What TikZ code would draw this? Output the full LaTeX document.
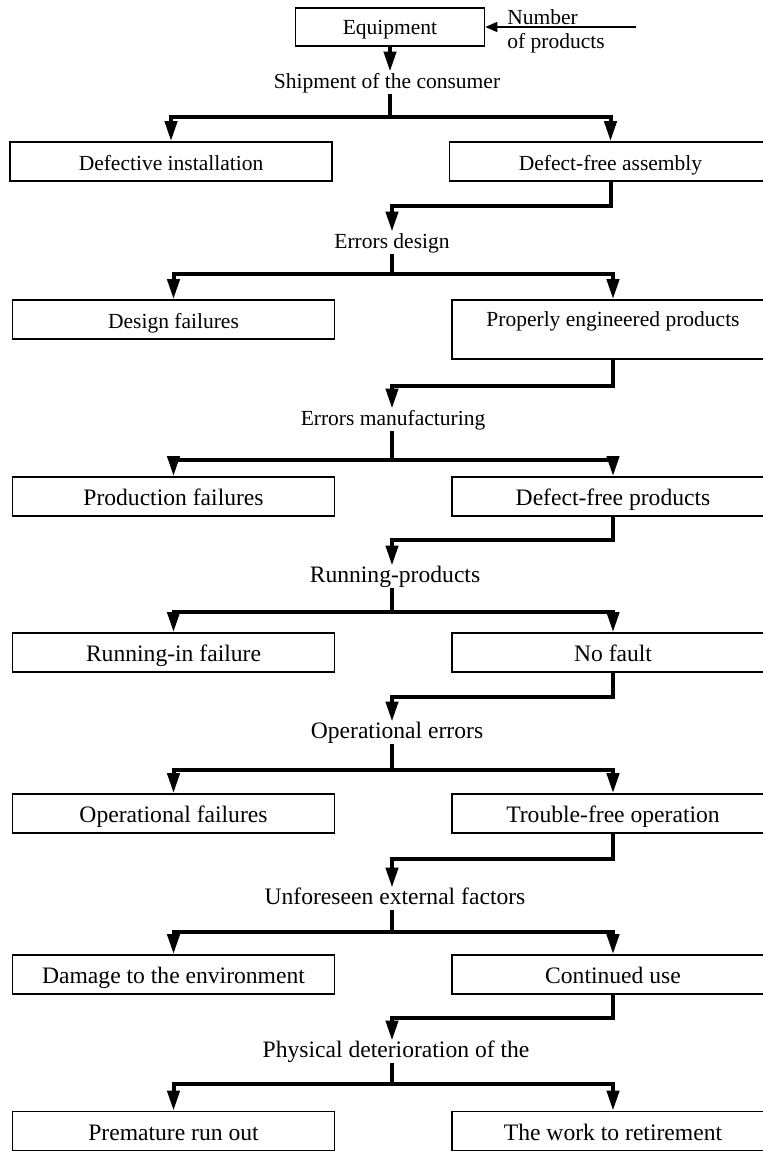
\documentclass[tikz,border=0pt]{standalone}
\usepackage{fontspec}
\setmainfont{Liberation Serif}
\usetikzlibrary{arrows.meta}

\tikzset{
  box/.style={draw,line width=0.8pt,minimum width=161pt,minimum height=19.5pt,
    inner sep=0pt,text height=11.5pt,text depth=2.5pt},
  stage/.style={inner sep=0.5pt,text height=7.5pt,text depth=2.5pt},
  large/.style={font=\fontsize{11.8}{14}\selectfont},
  flow/.style={line width=2pt},
  flowto/.style={flow,-{Triangle[length=10pt,width=6pt]}},
  feed/.style={line width=0.75pt,-{Triangle[length=6pt,width=5pt]}}
}

\begin{document}
\begin{tikzpicture}[x=0.5pt,y=-0.5pt,font=\fontsize{10.75}{13}\selectfont]
\useasboundingbox (0,0) rectangle (763,1151);
% Input
\node [box,minimum width=94.5pt,minimum height=19pt,text height=10pt] (equip) at (390,27) {Equipment};
\node [anchor=base west,inner sep=0pt] (number) at (507,25) {Number};
\node [anchor=base west,inner sep=0pt] (ofprod) at (507,48) {of products};
\coordinate (src) at (636,27);
\draw [feed] (src) -- (equip.east);
% Shipment
\node [stage] (shipment) at (387,83) {Shipment of the consumer};
\draw [flowto] (equip.south) -- (equip.south |- shipment.north);
\coordinate (s1) at (390,117);
\node [box] (instFail) at (171,161.5) {Defective installation};
\node [box] (assembly) at (610.5,161.5) {Defect-free assembly};
\draw [flow] (shipment.south -| s1) -- (s1);
\draw [flowto] (s1) -| (instFail.north);
\draw [flowto] (s1) -| (assembly.north);
% Design
\coordinate (r1) at (392,206);
\node [stage] (design) at (392,243) {Errors design};
\draw [flowto] (assembly.south) |- (r1) -- (r1 |- design.north);
\coordinate (s2) at (392,274);
\node [box] (designFail) at (173.5,319.5) {Design failures};
\node [box,minimum height=29.5pt,text depth=14.5pt] (engineered) at (613,329.5) {Properly engineered products};
\draw [flow] (design.south -| s2) -- (s2);
\draw [flowto] (s2) -| (designFail.north);
\draw [flowto] (s2) -| (engineered.north);
% Manufacturing
\coordinate (r2) at (392,386);
\node [stage] (manuf) at (393,420) {Errors manufacturing};
\draw [flowto] (engineered.south) |- (r2) -- (r2 |- manuf.north);
\coordinate (s3) at (392,460);
\node [box,large] (prodFail) at (173.5,496.5) {Production failures};
\node [box,large] (defectFree) at (613,496.5) {Defect-free products};
\draw [flow] (manuf.south -| s3) -- (s3);
\draw [flowto] (s3) -| (prodFail.north);
\draw [flowto] (s3) -| (defectFree.north);
% Running-in
\coordinate (r3) at (392,540);
\node [stage,large] (running) at (395,577) {Running-products};
\draw [flowto] (defectFree.south) |- (r3) -- (r3 |- running.north);
\coordinate (s4) at (392,612);
\node [box,large] (runFail) at (173.5,652.5) {Running-in failure};
\node [box,large] (noFault) at (613,652.5) {No fault};
\draw [flow] (running.south -| s4) -- (s4);
\draw [flowto] (s4) -| (runFail.north);
\draw [flowto] (s4) -| (noFault.north);
% Operation
\coordinate (r4) at (392,697);
\node [stage,large] (operr) at (397,733) {Operational errors};
\draw [flowto] (noFault.south) |- (r4) -- (r4 |- operr.north);
\coordinate (s5) at (392,770);
\node [box,large] (opFail) at (173.5,813.5) {Operational failures};
\node [box,large] (troubleFree) at (613,813.5) {Trouble-free operation};
\draw [flow] (operr.south -| s5) -- (s5);
\draw [flowto] (s5) -| (opFail.north);
\draw [flowto] (s5) -| (troubleFree.north);
% External factors
\coordinate (r5) at (392,859);
\node [stage,large] (extern) at (395,899) {Unforeseen external factors};
\draw [flowto] (troubleFree.south) |- (r5) -- (r5 |- extern.north);
\coordinate (s6) at (392,932);
\node [box,large] (damage) at (173.5,974.5) {Damage to the environment};
\node [box,large] (contUse) at (613,974.5) {Continued use};
\draw [flow] (extern.south -| s6) -- (s6);
\draw [flowto] (s6) -| (damage.north);
\draw [flowto] (s6) -| (contUse.north);
% Wear
\coordinate (r6) at (392,1018);
\node [stage,large] (wear) at (396,1052) {Physical deterioration of the};
\draw [flowto] (contUse.south) |- (r6) -- (r6 |- wear.north);
\coordinate (s7) at (392,1084);
\node [box,large] (premature) at (173.5,1131) {Premature run out};
\node [box,large] (retire) at (613,1131) {The work to retirement};
\draw [flow] (wear.south -| s7) -- (s7);
\draw [flowto] (s7) -| (premature.north);
\draw [flowto] (s7) -| (retire.north);
\end{tikzpicture}
\end{document}
